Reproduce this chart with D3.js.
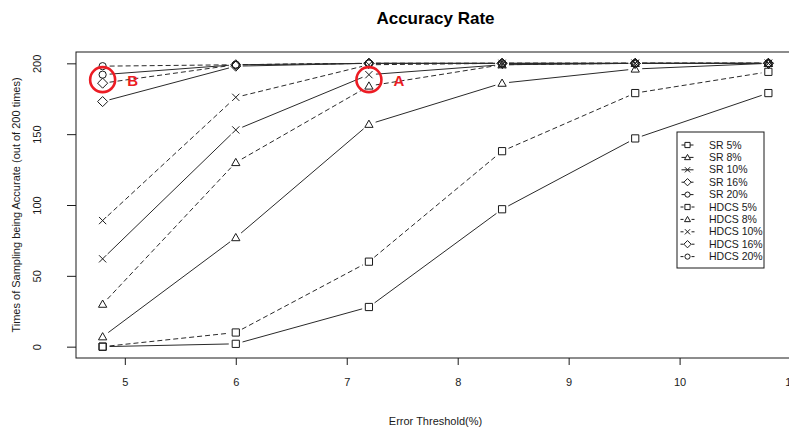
<!DOCTYPE html>
<html>
<head>
<meta charset="utf-8">
<script src="https://cdn.jsdelivr.net/npm/d3@7"></script>
<style>
  html, body { margin: 0; padding: 0; background: #fff; }
  svg { display: block; font-family: "Liberation Sans", Arial, sans-serif; }
</style>
</head>
<body>
<svg id="chart" width="789" height="430"></svg>
<script>
// Error thresholds (%) on the x axis
const thresholds = [4.8, 6.0, 7.2, 8.4, 9.6, 10.8];

// Times (out of 200) the sample was accurate, per method and sampling rate
const sr5    = [0, 2, 28, 97, 147, 179];
const sr8    = [7, 77, 157, 186, 196, 200];
const sr10   = [62, 153, 192, 199, 200, 200];
const sr16   = [173, 198, 200, 200, 200, 200];
const sr20   = [192, 199, 200, 200, 200, 200];
const hdcs5  = [0, 10, 60, 138, 179, 194];
const hdcs8  = [30, 130, 184, 199, 200, 200];
const hdcs10 = [89, 176, 199, 200, 200, 200];
const hdcs16 = [186, 199, 200, 200, 200, 200];
const hdcs20 = [198, 199, 200, 200, 200, 200];

const seriesNames  = ["SR 5%", "SR 8%", "SR 10%", "SR 16%", "SR 20%",
                      "HDCS 5%", "HDCS 8%", "HDCS 10%", "HDCS 16%", "HDCS 20%"];
const seriesValues = [sr5, sr8, sr10, sr16, sr20, hdcs5, hdcs8, hdcs10, hdcs16, hdcs20];
const seriesShapes = ["square", "triangle", "x", "diamond", "circle",
                      "square", "triangle", "x", "diamond", "circle"];
const seriesDashed = [false, false, false, false, false, true, true, true, true, true];

const xTicks = [5, 6, 7, 8, 9, 10, 11];
const yTicks = [0, 50, 100, 150, 200];

// Highlighted points: [label, series index, point index]
const callouts = [["B", 4, 0], ["A", 2, 2]];

const svg = d3.select("#chart");
const box = { left: 76, right: 795, top: 52, bottom: 358 };

const x = d3.scaleLinear().domain([4.56, 11.04]).range([box.left, box.right]);
const y = d3.scaleLinear().domain([-8, 208]).range([box.bottom, box.top]);

const ink = "#1a1a1a";
const lineInk = "#2a2a2a";
const dash = "5,3";
const narrow = "'Liberation Sans Narrow', 'Liberation Sans', Arial, sans-serif";

// Plotting symbols
function symbolPath(shape, s) {
  const p = d3.path();
  if (shape === "square") {
    p.rect(-s, -s, 2 * s, 2 * s);
  } else if (shape === "triangle") {
    const h = s * 1.15;
    p.moveTo(0, -h); p.lineTo(h, h * 0.75); p.lineTo(-h, h * 0.75); p.closePath();
  } else if (shape === "x") {
    p.moveTo(-s, -s); p.lineTo(s, s); p.moveTo(s, -s); p.lineTo(-s, s);
  } else if (shape === "diamond") {
    const d = s * 1.4;
    p.moveTo(0, -d); p.lineTo(d, 0); p.lineTo(0, d); p.lineTo(-d, 0); p.closePath();
  } else if (shape === "circle") {
    p.arc(0, 0, s, 0, 2 * Math.PI);
  }
  return p.toString();
}

// Plot frame
svg.append("rect")
  .attr("x", box.left).attr("y", box.top)
  .attr("width", box.right - box.left).attr("height", box.bottom - box.top)
  .attr("fill", "none").attr("stroke", ink).attr("stroke-width", 1);

// X axis
const xAxis = svg.append("g")
  .attr("transform", `translate(0,${box.bottom})`)
  .call(d3.axisBottom(x).tickValues(xTicks).tickSize(7).tickPadding(13).tickFormat(d3.format("d")));
xAxis.select(".domain").remove();
xAxis.selectAll("line").attr("stroke", ink);
xAxis.selectAll("text").attr("fill", ink).attr("font-size", 11).attr("font-family", narrow);

// Y axis, labels turned parallel to the axis
const yAxis = svg.append("g")
  .attr("transform", `translate(${box.left},0)`)
  .call(d3.axisLeft(y).tickValues(yTicks).tickSize(9).tickFormat(d3.format("d")));
yAxis.select(".domain").remove();
yAxis.selectAll("line").attr("stroke", ink);
yAxis.selectAll("text")
  .attr("fill", ink).attr("font-size", 11).attr("font-family", narrow)
  .attr("x", null)
  .attr("text-anchor", "middle")
  .attr("transform", "translate(-39,0) rotate(-90)")
  .attr("dy", "0.35em");

// Titles
svg.append("text")
  .attr("x", (box.left + box.right) / 2).attr("y", 24)
  .attr("text-anchor", "middle").attr("font-size", 17).attr("font-weight", "bold")
  .attr("fill", "#000").text("Accuracy Rate");

svg.append("text")
  .attr("x", (box.left + box.right) / 2).attr("y", 425)
  .attr("text-anchor", "middle").attr("font-size", 11).attr("font-family", narrow)
  .attr("fill", ink).text("Error Threshold(%)");

svg.append("text")
  .attr("transform", `translate(20,${(box.top + box.bottom) / 2}) rotate(-90)`)
  .attr("text-anchor", "middle").attr("font-size", 11).attr("font-family", narrow)
  .attr("fill", ink).text("Times of Sampling being Accurate (out of 200 times)");

// Series: segments stop short of each point, with symbols at the points
const gap = 7;
const plot = svg.append("g");
seriesValues.forEach((vals, i) => {
  const pts = vals.map((v, j) => [x(thresholds[j]), y(v)]);
  const g = plot.append("g");
  for (let j = 0; j < pts.length - 1; j++) {
    const [x0, y0] = pts[j], [x1, y1] = pts[j + 1];
    const len = Math.hypot(x1 - x0, y1 - y0);
    if (len <= 2 * gap) continue;
    const ux = (x1 - x0) / len, uy = (y1 - y0) / len;
    g.append("line")
      .attr("x1", x0 + ux * gap).attr("y1", y0 + uy * gap)
      .attr("x2", x1 - ux * gap).attr("y2", y1 - uy * gap)
      .attr("stroke", lineInk).attr("stroke-width", 1)
      .attr("stroke-dasharray", seriesDashed[i] ? dash : null);
  }
  g.selectAll("path.pt").data(pts).enter().append("path")
    .attr("class", "pt")
    .attr("transform", d => `translate(${d[0]},${d[1]})`)
    .attr("d", symbolPath(seriesShapes[i], 3.6))
    .attr("fill", "none").attr("stroke", ink).attr("stroke-width", 1);
});

// Legend
const lg = svg.append("g");
const lgBox = { x: 677, y: 132, w: 87, h: 136 };
lg.append("rect")
  .attr("x", lgBox.x).attr("y", lgBox.y).attr("width", lgBox.w).attr("height", lgBox.h)
  .attr("fill", "#fff").attr("stroke", ink).attr("stroke-width", 1);
seriesNames.forEach((name, i) => {
  const cy = 145 + i * 12.4;
  const cx = 687.5;
  if (seriesDashed[i]) {
    lg.append("line").attr("x1", cx - 7).attr("x2", cx - 4).attr("y1", cy).attr("y2", cy).attr("stroke", ink);
    lg.append("line").attr("x1", cx + 4).attr("x2", cx + 7).attr("y1", cy).attr("y2", cy).attr("stroke", ink);
  } else {
    lg.append("line").attr("x1", cx - 6).attr("x2", cx + 6).attr("y1", cy).attr("y2", cy).attr("stroke", ink);
  }
  lg.append("path")
    .attr("transform", `translate(${cx},${cy})`)
    .attr("d", symbolPath(seriesShapes[i], 2.6))
    .attr("fill", "#fff").attr("stroke", ink);
  lg.append("text")
    .attr("x", 709).attr("y", cy).attr("dy", "0.35em")
    .attr("font-size", 10.5).attr("fill", ink).text(name);
});

// Red callouts around highlighted points
const red = "#ec1c24";
callouts.forEach(([label, si, pj]) => {
  const cx = x(thresholds[pj]), cy = y(seriesValues[si][pj]) + 5;
  svg.append("circle")
    .attr("cx", cx).attr("cy", cy).attr("r", 12.5)
    .attr("fill", "none").attr("stroke", red).attr("stroke-width", 2.6);
  svg.append("text")
    .attr("x", cx + 30).attr("y", cy + 1).attr("dy", "0.35em")
    .attr("text-anchor", "middle").attr("font-size", 15).attr("font-weight", "bold")
    .attr("fill", red).text(label);
});
</script>
</body>
</html>
